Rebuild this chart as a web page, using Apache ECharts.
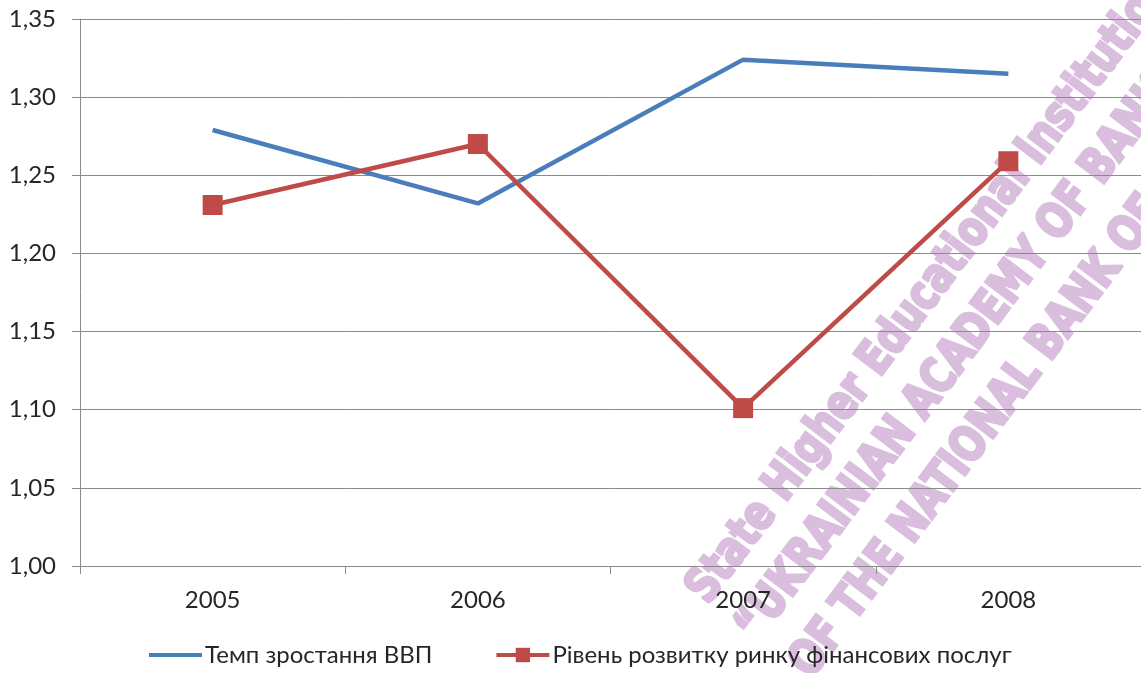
<!DOCTYPE html>
<html>
<head>
<meta charset="utf-8">
<style>
  html, body { margin: 0; padding: 0; background: #fff; }
  #chart { width: 1141px; height: 673px; }
</style>
<script src="https://cdn.jsdelivr.net/npm/echarts@6/dist/echarts.min.js"></script>
</head>
<body>
<div id="chart"></div>
<script>
// Years on the category axis
const years = ['2005', '2006', '2007', '2008'];

// Series names (legend)
const gdpName = 'Темп зростання ВВП';
const finName = 'Рівень розвитку ринку фінансових послуг';

// Series values
const gdpGrowth = [1.279, 1.232, 1.324, 1.315];
const finMarket = [1.231, 1.270, 1.101, 1.259];

// Value axis range
const yMin = 1.00;
const yMax = 1.35;
const yStep = 0.05;

// Watermark lines
const stampLines = [
  'State Higher Educational Institution',
  '\u201CUKRAINIAN ACADEMY OF BANKING',
  'OF THE NATIONAL BANK OF UKRAINE'
];

const FONT = 'Lato, "Open Sans", sans-serif';
const GRID_COLOR = '#8a8a8a';
const TEXT_COLOR = '#262626';
const STAMP_COLOR = '#dabede';

const chart = echarts.init(document.getElementById('chart'), null, { renderer: 'canvas' });

// Rotated, condensed stamp text laid under the plot so lines and labels show through
const ang = 53 * Math.PI / 180;
const stampStarts = [[698, 598], [747, 636], [801, 672]];
const stamp = stampLines.map((t, i) => ({
  type: 'text',
  x: stampStarts[i][0],
  y: stampStarts[i][1],
  rotation: ang,
  scaleX: 0.88,
  scaleY: 1.0,
  z: -10,
  silent: true,
  style: {
    text: t,
    fontFamily: '"DejaVu Sans Condensed", "DejaVu Sans", sans-serif',
    fontWeight: 'bold',
    fontSize: 48,
    fill: STAMP_COLOR,
    stroke: STAMP_COLOR,
    lineWidth: 3,
    align: 'left',
    verticalAlign: 'middle'
  }
}));

chart.setOption({
  animation: false,
  backgroundColor: '#ffffff',
  grid: { left: 80, right: 0, top: 19, bottom: 107, containLabel: false },
  legend: {
    left: 147,
    top: 643,
    itemWidth: 53,
    itemHeight: 18,
    itemGap: 62,
    padding: 0,
    lineStyle: { width: 4 },
    textStyle: { fontFamily: FONT, fontSize: 24, color: TEXT_COLOR, padding: [0, 0, 0, -2] },
    data: [
      { name: gdpName, itemStyle: { opacity: 0 } },
      { name: finName }
    ]
  },
  xAxis: {
    type: 'category',
    data: years,
    boundaryGap: true,
    axisLine: { lineStyle: { color: GRID_COLOR, width: 1 } },
    axisTick: { show: true, length: 8, alignWithLabel: false, lineStyle: { color: GRID_COLOR } },
    axisLabel: { fontFamily: FONT, fontSize: 24, color: TEXT_COLOR, margin: 22 },
    splitLine: { show: false }
  },
  yAxis: {
    type: 'value',
    min: yMin,
    max: yMax,
    interval: yStep,
    axisLine: { show: true, lineStyle: { color: GRID_COLOR, width: 1 } },
    axisTick: { show: true, length: 8, lineStyle: { color: GRID_COLOR } },
    axisLabel: {
      fontFamily: FONT, fontSize: 24, color: TEXT_COLOR, margin: 24,
      formatter: v => v.toFixed(2).replace('.', ',')
    },
    splitLine: { show: true, lineStyle: { color: GRID_COLOR, width: 1 } }
  },
  series: [
    {
      name: gdpName,
      type: 'line',
      data: gdpGrowth,
      symbol: 'none',
      lineStyle: { color: '#4a7ebb', width: 4.5 },
      itemStyle: { color: '#4a7ebb' },
      z: 3
    },
    {
      name: finName,
      type: 'line',
      data: finMarket,
      symbol: 'rect',
      symbolSize: 20,
      showAllSymbol: true,
      lineStyle: { color: '#be4b48', width: 4.5 },
      itemStyle: { color: '#be4b48' },
      z: 4
    }
  ],
  graphic: stamp
});
</script>
</body>
</html>
